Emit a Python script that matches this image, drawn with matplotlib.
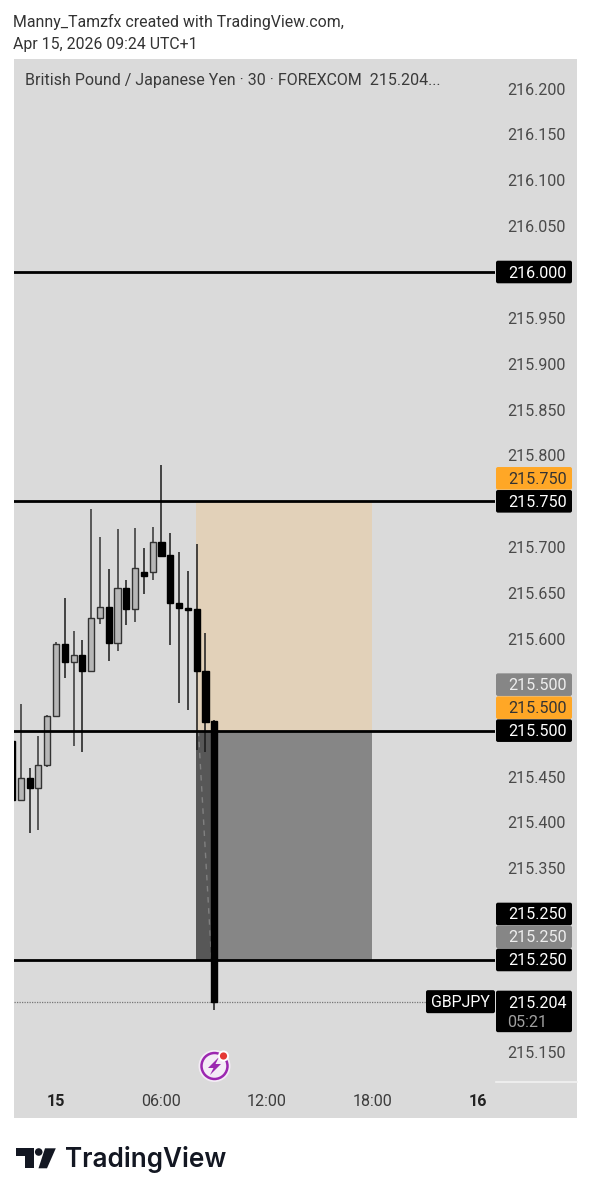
import matplotlib
matplotlib.use("Agg")
import matplotlib.pyplot as plt
from matplotlib.patches import FancyBboxPatch, Rectangle, Polygon, Circle

plt.rcParams['font.family'] = ['Roboto', 'DejaVu Sans']

# candles, 30 min bars, bar 0 is 00:00 on the 15th
bar_index = list(range(-5, 19))
opens = [215.489, 215.424, 215.448, 215.437, 215.463, 215.516, 215.595, 215.575, 215.582, 215.565,
         215.623, 215.635, 215.596, 215.656, 215.633, 215.673, 215.673, 215.706, 215.691, 215.639,
         215.634, 215.633, 215.565, 215.510]
closes = [215.424, 215.448, 215.437, 215.463, 215.516, 215.595, 215.575, 215.582, 215.565, 215.623,
          215.635, 215.596, 215.656, 215.633, 215.677, 215.669, 215.706, 215.690, 215.639, 215.634,
          215.632, 215.565, 215.509, 215.204]
highs = [215.489, 215.529, 215.459, 215.494, 215.517, 215.597, 215.645, 215.609, 215.599, 215.742,
         215.711, 215.676, 215.720, 215.664, 215.721, 215.699, 215.722, 215.790, 215.715, 215.695,
         215.674, 215.703, 215.606, 215.512]
lows = [215.424, 215.424, 215.388, 215.392, 215.460, 215.516, 215.557, 215.483, 215.477, 215.565,
        215.616, 215.576, 215.587, 215.615, 215.618, 215.649, 215.664, 215.690, 215.593, 215.530,
        215.522, 215.479, 215.477, 215.195]

level_prices = [216.0, 215.75, 215.5, 215.25]
last_price = 215.204

# position tool
zone_start, zone_end = 16, 36
zone_split = 18
target_top, entry, stop = 215.75, 215.5, 215.25
dash_x = [16.2, 17.7]
dash_y = [215.5, 215.25]

price_ticks = [216.2, 216.15, 216.1, 216.05, 215.95, 215.9, 215.85, 215.8, 215.7,
               215.65, 215.6, 215.55, 215.45, 215.4, 215.35, 215.3, 215.15]
time_ticks = [0, 12, 24, 36, 48]
time_labels = ['15', '06:00', '12:00', '18:00', '16']

badge_labels = ['216.000', '215.750', '215.750', '215.500', '215.500', '215.500', '215.250', '215.250', '215.250']
badge_prices = [216.0, 215.75, 215.75, 215.5, 215.5, 215.5, 215.25, 215.25, 215.25]
badge_shift = [0, -23, 0, -46, -23, 0, -46, -23, 0]
badge_colors = ['#000000', '#ffa726', '#000000', '#868686', '#ffa726', '#000000', '#000000', '#868686', '#000000']
badge_text = ['#ffffff', '#333333', '#ffffff', '#eeeeee', '#333333', '#ffffff', '#ffffff', '#eeeeee', '#ffffff']

W, H = 591, 1199
BG = '#dadada'
# price and bar scale of the picture, in pixels
PX_PER_PRICE = 917.3
Y_216 = 272
PX_PER_BAR = 8.79
X_BAR0 = 56
LEFT, RIGHT, TOP, BOTTOM = 14, 495, 59, 1082


def price_y(p):
    return Y_216 + (216 - p) * PX_PER_PRICE


def badge(px, x0, x1, y0, y1, color):
    px.add_patch(FancyBboxPatch((x0 + 1, y0 + 1), x1 - x0 - 2, y1 - y0 - 2, boxstyle='round,pad=1,rounding_size=2',
                                fc=color, ec='none', zorder=5))


fig = plt.figure(figsize=(W / 100, H / 100), dpi=100, facecolor='white')

# pixel layer behind the chart for the panel
back = fig.add_axes([0, 0, 1, 1], zorder=0)
back.set_xlim(0, W)
back.set_ylim(H, 0)
back.axis('off')
back.add_patch(Rectangle((13.5, 59), 563.5, 1059, fc=BG, ec='none'))
back.plot([496, 577], [1082, 1082], color='#f2f2f2', lw=1.2)

ax = fig.add_axes([LEFT / W, 1 - BOTTOM / H, (RIGHT - LEFT) / W, (BOTTOM - TOP) / H], zorder=1)
ax.patch.set_alpha(0)
ax.set_xlim((LEFT - X_BAR0) / PX_PER_BAR, (RIGHT - X_BAR0) / PX_PER_BAR)
ax.set_ylim(216 - (BOTTOM - Y_216) / PX_PER_PRICE, 216 + (Y_216 - TOP) / PX_PER_PRICE)
for s in ax.spines.values():
    s.set_visible(False)

# zones
ax.fill_between([zone_start - 0.05, zone_end], entry, target_top, color='#e2d1b9', lw=0, zorder=1)
ax.fill_between([zone_start - 0.05, zone_end], stop, entry, color='#868686', lw=0, zorder=1)
ax.fill_between([zone_start - 0.05, zone_split], stop, entry, color='#575757', lw=0, zorder=1.1)
ax.plot(dash_x, dash_y, color='#808080', lw=1, ls=(0, (4, 4)), zorder=1.2)

# candles
for i, o, c, h, l in zip(bar_index, opens, closes, highs, lows):
    up = c > o
    ax.vlines(i, l, h, color='#333333' if up else '#1a1a1a', lw=1.1, zorder=2)
    ax.bar(i, abs(c - o), bottom=min(o, c), width=0.7, color='#b7b7b7' if up else '#000000',
           edgecolor='#333333' if up else '#000000', lw=1.0, zorder=3)

for p in level_prices:
    ax.axhline(p, color='#000000', lw=2, zorder=4)
ax.axhline(last_price, color='#777777', lw=0.9, ls=(0, (1, 1)), zorder=1.5)

ax.yaxis.tick_right()
ax.set_yticks(price_ticks)
ax.set_yticklabels([f'{p:.3f}' for p in price_ticks], fontsize=11.6, color='#4a4a4a')
ax.tick_params(axis='y', length=0, pad=8.5)
ax.set_xticks(time_ticks)
ax.set_xticklabels(time_labels, fontsize=11.6, color='#3c3c3c')
ax.tick_params(axis='x', length=0, pad=8.5)
for t in ax.get_xticklabels():
    if t.get_text() in ('15', '16'):
        t.set_fontweight('bold')
        t.set_color('#222222')

# pixel layer on top for badges, header and logos
px = fig.add_axes([0, 0, 1, 1], zorder=2)
px.patch.set_alpha(0)
px.set_xlim(0, W)
px.set_ylim(H, 0)
px.axis('off')

for lab, p, sh, col, tc in zip(badge_labels, badge_prices, badge_shift, badge_colors, badge_text):
    y = price_y(p) + sh
    badge(px, 496, 572, y - 11.3, y + 11.3, col)
    px.text(537.5, y + 1, lab, ha='center', va='center', fontsize=11.6, color=tc, zorder=6)

y_last = price_y(last_price)
badge(px, 496, 572, y_last - 11.5, y_last + 30, '#000000')
px.text(537.5, y_last + 1, f'{last_price:.3f}', ha='center', va='center', fontsize=11.6, color='#ffffff', zorder=6)
px.text(507.5, y_last + 20.5, '05:21', ha='left', va='center', fontsize=11.6, color='#a0a0a0', zorder=6)
badge(px, 426, 495, y_last - 12, y_last + 11, '#000000')
px.text(460.5, y_last + 0.5, 'GBPJPY', ha='center', va='center', fontsize=11.4, color='#ffffff', zorder=6)

px.text(13, 22, 'Manny_Tamzfx created with TradingView.com,', ha='left', va='center', fontsize=11.4, color='#333333')
px.text(13, 44, 'Apr 15, 2026 09:24 UTC+1', ha='left', va='center', fontsize=11.4, color='#333333')
px.text(25, 80, 'British Pound / Japanese Yen · 30 · FOREXCOM  215.204...', ha='left', va='center',
        fontsize=11.5, color='#3a3a3a')

# replay/lightning icon
px.add_patch(Circle((214.5, 1066), 16, fc='#f4ecf6', ec='none', zorder=5))
px.add_patch(Circle((214.5, 1066), 13, fc='none', ec='#9c27b0', lw=1.8, zorder=6))
px.add_patch(Polygon([(219, 1057), (208, 1068), (213.5, 1068), (210, 1075), (221, 1064), (215.5, 1064)],
                     fc='#9c27b0', ec='none', zorder=6))
px.add_patch(Circle((223.5, 1056), 5.5, fc='white', ec='none', zorder=6))
px.add_patch(Circle((223.5, 1056), 3.6, fc='#e53935', ec='none', zorder=7))

# TradingView logo
logo = '#131722'
px.add_patch(Polygon([(16, 1148.3), (33.5, 1148.3), (33.5, 1168.3), (25, 1168.3), (25, 1156), (16, 1156)],
                     fc=logo, ec='none'))
px.add_patch(Circle((38.7, 1152), 3.8, fc=logo, ec='none'))
px.add_patch(Polygon([(45, 1148.3), (55.8, 1148.3), (47, 1168.3), (38.5, 1168.3)], fc=logo, ec='none'))
px.text(65, 1159.5, 'TradingView', ha='left', va='center', fontsize=18.8, family=['Inter', 'DejaVu Sans'],
        fontweight='semibold', color=logo)

fig.savefig('out.png', dpi=100)
